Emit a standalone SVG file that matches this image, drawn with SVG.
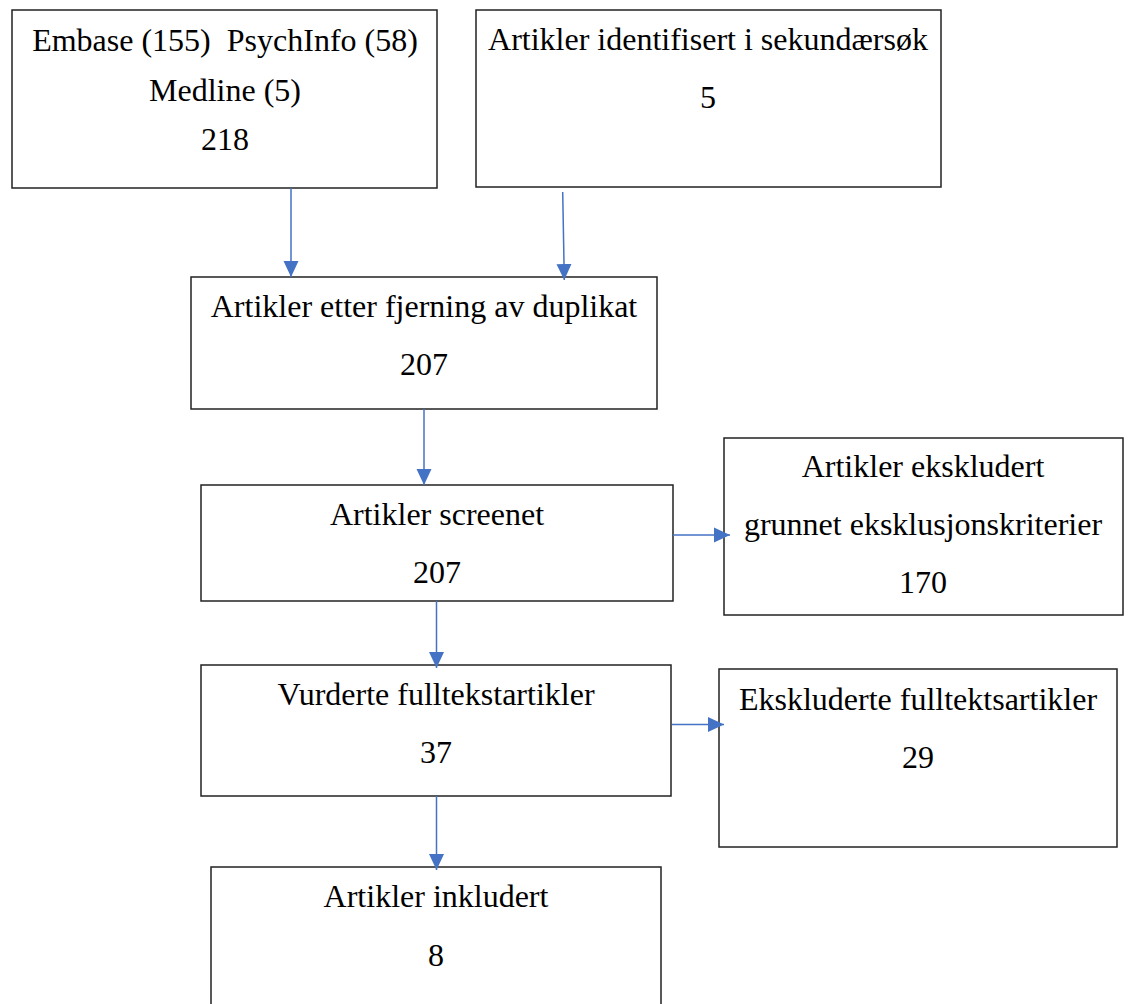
<svg xmlns="http://www.w3.org/2000/svg" width="1128" height="1004" viewBox="0 0 1128 1004">
<style>
.box{fill:#fff;stroke:#222;stroke-width:1.5}
.t{font-family:"Liberation Serif","Times New Roman",serif;font-size:32px;fill:#000;text-anchor:middle}
.c{stroke:#4472C4;stroke-width:1.5;fill:none;marker-end:url(#ah)}
</style>
<defs>
<marker id="ah" markerUnits="userSpaceOnUse" markerWidth="16" markerHeight="16" viewBox="0 0 16 16" refX="16" refY="8" orient="auto">
<path d="M0,0.5 L16,8 L0,15.5 Z" fill="#4472C4"/>
</marker>
</defs>
<rect width="1128" height="1004" fill="#fff"/>
<g id="n1">
<rect class="box" x="12" y="10" width="425" height="178"/>
<text class="t" x="225" y="51">Embase (155)&#160; PsychInfo (58)</text>
<text class="t" x="225" y="101">Medline (5)</text>
<text class="t" x="225" y="150">218</text>
</g>
<g id="n2">
<rect class="box" x="476" y="10" width="465" height="177"/>
<text class="t" x="708" y="50">Artikler identifisert i sekundærsøk</text>
<text class="t" x="708" y="108">5</text>
</g>
<g id="n3">
<rect class="box" x="191" y="277" width="466" height="132"/>
<text class="t" x="424" y="317">Artikler etter fjerning av duplikat</text>
<text class="t" x="424" y="375">207</text>
</g>
<g id="n4">
<rect class="box" x="201" y="485" width="472" height="116"/>
<text class="t" x="437" y="525">Artikler screenet</text>
<text class="t" x="437" y="583">207</text>
</g>
<g id="n5">
<rect class="box" x="724" y="438" width="399" height="177"/>
<text class="t" x="923" y="477">Artikler ekskludert</text>
<text class="t" x="923" y="535">grunnet eksklusjonskriterier</text>
<text class="t" x="923" y="593">170</text>
</g>
<g id="n6">
<rect class="box" x="201" y="665" width="470" height="131"/>
<text class="t" x="436" y="705">Vurderte fulltekstartikler</text>
<text class="t" x="436" y="763">37</text>
</g>
<g id="n7">
<rect class="box" x="719" y="669" width="398" height="178"/>
<text class="t" x="918" y="710">Ekskluderte fulltektsartikler</text>
<text class="t" x="918" y="768">29</text>
</g>
<g id="n8">
<rect class="box" x="211" y="867" width="450" height="160"/>
<text class="t" x="436" y="907">Artikler inkludert</text>
<text class="t" x="436" y="966">8</text>
</g>
<g id="connectors">
<line class="c" x1="291" y1="188" x2="291" y2="277"/>
<line class="c" x1="562.7" y1="192" x2="564.3" y2="280"/>
<line class="c" x1="424" y1="409" x2="424" y2="485"/>
<line class="c" x1="673" y1="535" x2="730" y2="535"/>
<line class="c" x1="436.5" y1="601" x2="436.5" y2="668"/>
<line class="c" x1="672" y1="724.5" x2="724" y2="724.5"/>
<line class="c" x1="436.5" y1="796" x2="436.5" y2="870"/>
</g>
</svg>
